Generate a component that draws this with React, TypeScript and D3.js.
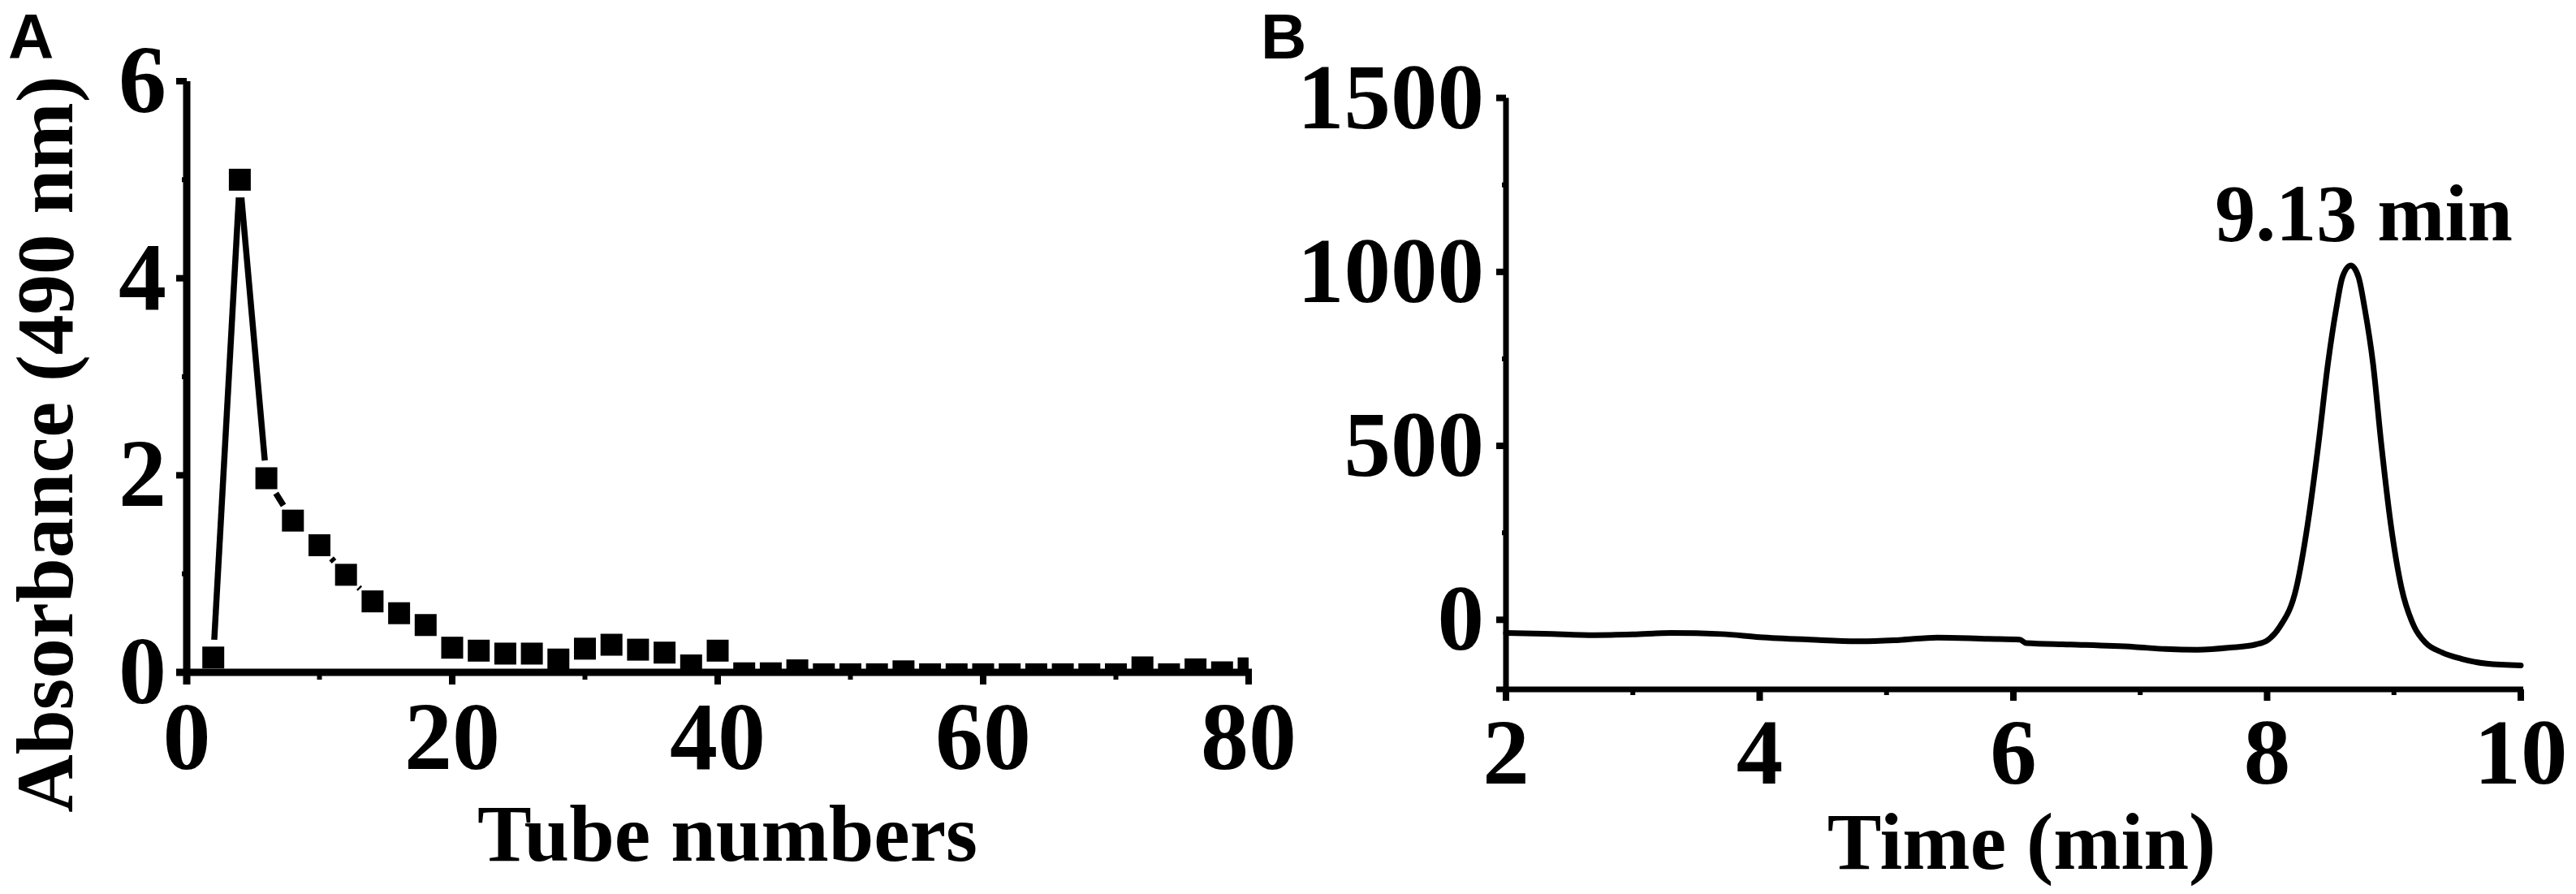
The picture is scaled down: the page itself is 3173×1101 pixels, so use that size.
import React from 'react';
import * as d3 from 'd3';

// ---------- Panel A data ----------
const tubeNumbers = [2, 4, 6, 8, 10, 12, 14, 16, 18, 20, 22, 24, 26, 28, 30, 32, 34, 36, 38, 40,
  42, 44, 46, 48, 50, 52, 54, 56, 58, 60, 62, 64, 66, 68, 70, 72, 74, 76, 78, 80];
const absorbance = [0.15, 5.0, 1.97, 1.54, 1.29, 0.99, 0.72, 0.6, 0.48, 0.25, 0.22, 0.19, 0.19, 0.13, 0.24, 0.28, 0.23, 0.2, 0.07, 0.22,
  -0.01, -0.01, 0.02, -0.02, -0.02, -0.02, 0.01, -0.02, -0.02, -0.02, -0.02, -0.02, -0.02, -0.02, -0.02, 0.05, -0.02, 0.03, 0.0, 0.04];
const aYTicks = [0, 2, 4, 6];
const aYMinor = [1, 3, 5];
const aXTicks = [0, 20, 40, 60, 80];
const aXMinor = [10, 30, 50, 70];

// ---------- Panel B data ----------
const timeMin = [2.0, 2.3, 2.7, 3.0, 3.3, 3.7, 4.0, 4.4, 4.8, 5.1, 5.4, 5.8, 6.05, 6.1, 6.45, 6.95, 7.2, 7.45, 7.71, 7.91,
  8.01, 8.1, 8.23, 8.32, 8.405, 8.48, 8.545, 8.595, 8.66, 8.72, 8.77, 8.835, 8.9, 8.975, 9.06, 9.16, 9.25, 9.38, 9.53, 9.73, 10.0];
const signal = [-38, -40, -44, -42, -38, -41, -50, -57, -62, -58, -51, -55, -57, -67, -71, -78, -84, -86, -80, -71,
  -57, -20, 91, 275, 506, 737, 894, 986, 1018, 986, 894, 737, 506, 275, 91, -20, -66, -94, -112, -126, -131];
const bYTicks = [0, 500, 1000, 1500];
const bYMinor = [250, 750, 1250];
const bXTicks = [2, 4, 6, 8, 10];
const bXMinor = [3, 5, 7, 9];
const peakLabel = '9.13 min';
const peakLabelTime = 8.66;

const SERIF = "'Liberation Serif', 'Times New Roman', serif";
const SANS = "'Liberation Sans', Arial, sans-serif";

export default function App() {
  const W = 3173, H = 1101;

  // Panel A scales
  const xA = d3.scaleLinear().domain([0, 80]).range([230, 1538]);
  const yA = d3.scaleLinear().domain([0, 6]).range([828, 100]);
  // Panel B scales
  const xB = d3.scaleLinear().domain([2, 10]).range([1855, 3105]);
  const yB = d3.scaleLinear().domain([-200, 1500]).range([849, 120.6]);

  const marker = 27;
  const gap = 22;
  const pts = tubeNumbers.map((t, i) => [xA(t), yA(absorbance[i])]);
  const segs: number[][] = [];
  for (let i = 0; i < pts.length - 1; i++) {
    const [x1, y1] = pts[i];
    const [x2, y2] = pts[i + 1];
    const dx = x2 - x1, dy = y2 - y1;
    const len = Math.hypot(dx, dy);
    if (len > 2 * gap + 2) {
      const ux = dx / len, uy = dy / len;
      segs.push([x1 + ux * gap, y1 + uy * gap, x2 - ux * gap, y2 - uy * gap]);
    }
  }

  const lineB = d3.line<number>()
    .x((_, i) => xB(timeMin[i]))
    .y((d) => yB(d))
    .curve(d3.curveMonotoneX);

  const tickFs = 118;
  const titleFs = 100;

  const aAxisW = 9;
  const bAxisW = 7;

  return (
    <svg width={W} height={H} style={{ position: 'absolute', left: 0, top: 0, background: '#fff' }}>
      <rect x={0} y={0} width={W} height={H} fill="#fff" />
      <defs>
        <clipPath id="clipA">
          <rect x={xA(0)} y={yA(6)} width={xA(80) - xA(0)} height={yA(0) - yA(6)} />
        </clipPath>
      </defs>

      {/* Panel letters */}
      <text x={10} y={72} fontFamily={SANS} fontWeight="bold" fontSize={78} fill="#000">A</text>
      <text x={1553} y={72} fontFamily={SANS} fontWeight="bold" fontSize={78} fill="#000">B</text>

      {/* ---------- Panel A ---------- */}
      <g clipPath="url(#clipA)">
        {segs.map((s, i) => (
          <line key={i} x1={s[0]} y1={s[1]} x2={s[2]} y2={s[3]} stroke="#000" strokeWidth={7.5} />
        ))}
        {pts.map((p, i) => (
          <rect key={i} x={p[0] - marker / 2} y={p[1] - marker / 2} width={marker} height={marker} fill="#000" />
        ))}
      </g>
      {/* A axes */}
      <line x1={xA(0)} y1={yA(6)} x2={xA(0)} y2={yA(0) + 15} stroke="#000" strokeWidth={aAxisW} />
      <line x1={xA(0) - 13} y1={yA(0)} x2={xA(80) + 4} y2={yA(0)} stroke="#000" strokeWidth={aAxisW} />
      {aYTicks.map((v) => (
        <g key={'ay' + v}>
          <line x1={xA(0) - 13} x2={xA(0)} y1={yA(v)} y2={yA(v)} stroke="#000" strokeWidth={8} />
          <text x={205} y={yA(v) + 38} textAnchor="end" fontFamily={SERIF} fontWeight="bold" fontSize={tickFs}>{v}</text>
        </g>
      ))}
      {aYMinor.map((v) => (
        <line key={'aym' + v} x1={xA(0) - 6} x2={xA(0)} y1={yA(v)} y2={yA(v)} stroke="#000" strokeWidth={6} />
      ))}
      {aXTicks.map((v) => (
        <g key={'ax' + v}>
          <line x1={xA(v)} x2={xA(v)} y1={yA(0)} y2={yA(0) + 15} stroke="#000" strokeWidth={8} />
          <text x={xA(v)} y={947} textAnchor="middle" fontFamily={SERIF} fontWeight="bold" fontSize={tickFs}>{v}</text>
        </g>
      ))}
      {aXMinor.map((v) => (
        <line key={'axm' + v} x1={xA(v)} x2={xA(v)} y1={yA(0)} y2={yA(0) + 9} stroke="#000" strokeWidth={6} />
      ))}
      <text x={896} y={1060} textAnchor="middle" fontFamily={SERIF} fontWeight="bold" fontSize={titleFs}>Tube numbers</text>
      <text transform={`translate(89,547) rotate(-90)`} textAnchor="middle" fontFamily={SERIF} fontWeight="bold" fontSize={99}>Absorbance (490 nm)</text>

      {/* ---------- Panel B ---------- */}
      <path d={lineB(signal) || ''} fill="none" stroke="#000" strokeWidth={7} strokeLinejoin="round" strokeLinecap="round" />
      <line x1={xB(2)} y1={yB(1500)} x2={xB(2)} y2={yB(-200) + 14} stroke="#000" strokeWidth={bAxisW} />
      <line x1={xB(2) - 12} y1={yB(-200)} x2={xB(10) + 3} y2={yB(-200)} stroke="#000" strokeWidth={bAxisW} />
      {bYTicks.map((v) => (
        <g key={'by' + v}>
          <line x1={xB(2) - 12} x2={xB(2)} y1={yB(v)} y2={yB(v)} stroke="#000" strokeWidth={8} />
          <text x={1828} y={yB(v) + 37} textAnchor="end" fontFamily={SERIF} fontWeight="bold" fontSize={115}>{v}</text>
        </g>
      ))}
      {bYMinor.map((v) => (
        <line key={'bym' + v} x1={xB(2) - 5} x2={xB(2)} y1={yB(v)} y2={yB(v)} stroke="#000" strokeWidth={6} />
      ))}
      {bXTicks.map((v) => (
        <g key={'bx' + v}>
          <line x1={xB(v)} x2={xB(v)} y1={yB(-200)} y2={yB(-200) + 14} stroke="#000" strokeWidth={8} />
          <text x={xB(v)} y={965} textAnchor="middle" fontFamily={SERIF} fontWeight="bold" fontSize={115}>{v}</text>
        </g>
      ))}
      {bXMinor.map((v) => (
        <line key={'bxm' + v} x1={xB(v)} x2={xB(v)} y1={yB(-200)} y2={yB(-200) + 7} stroke="#000" strokeWidth={6} />
      ))}
      <text x={2490} y={1070} textAnchor="middle" fontFamily={SERIF} fontWeight="bold" fontSize={titleFs}>Time (min)</text>
      <text x={xB(peakLabelTime) + 16} y={296} textAnchor="middle" fontFamily={SERIF} fontWeight="bold" fontSize={100}>{peakLabel}</text>
    </svg>
  );
}
